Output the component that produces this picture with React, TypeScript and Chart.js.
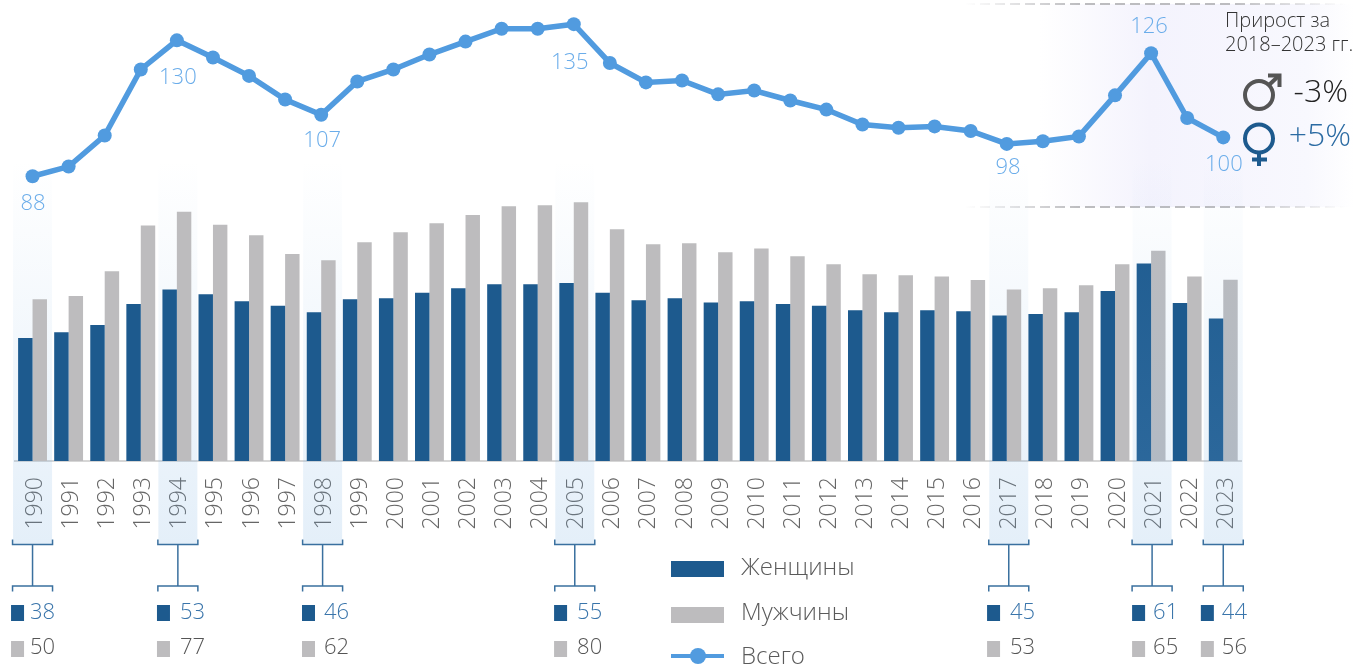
import React, { useEffect, useRef } from "react";
import { Chart, registerables } from "chart.js";

Chart.register(...registerables);

const years = ["1990","1991","1992","1993","1994","1995","1996","1997","1998","1999","2000","2001","2002","2003","2004","2005","2006","2007","2008","2009","2010","2011","2012","2013","2014","2015","2016","2017","2018","2019","2020","2021","2022","2023"];
const women = [38,39.8,42,48.5,53,51.5,49.4,48,46,50,50.3,52,53.4,54.6,54.6,55,52,49.7,50.3,49,49.4,48.5,48,46.6,46,46.6,46.3,45,45.4,46,52.5,61,48.8,44];
const men = [50,51,58.6,72.8,77,73,69.8,64,62,67.6,70.7,73.5,76,78.7,79,80,71.6,67,67.3,64.5,65.7,63.3,60.8,57.7,57.4,57,55.9,53,53.4,54.3,60.8,65,57,56];
const total = [88,91,100.6,121,130,124.7,119,111.7,107,117.3,121,125.6,129.6,133.6,133.6,135,123,117,117.6,113.3,114.5,111.4,108.6,104,103,103.4,102,98,98.8,100.3,113,126,106,100];
const highlightYears = ["1990","1994","1998","2005","2017","2021","2023"];
const overlayYears = ["2021","2023"];
const labelledTotals = ["1990","1994","1998","2005","2017","2021","2023"];
const legendLabels = ["Женщины","Мужчины","Всего"];
const growthTitle = ["Прирост за","2018–2023 гг."];
const growthMen = "-3%";
const growthWomen = "+5%";

const FONT = '"Open Sans", sans-serif';
const BLUE = "#1d5a8e";
const GREY = "#bdbcbe";
const LINE = "#519bdf";

// label offsets from the data point, in px
const labelOffsets: Record<string, [number, number]> = {
  "1990": [0.5, 27], "1994": [1, 37], "1998": [1, 26], "2005": [-4, 39],
  "2017": [1.3, 24], "2021": [-2, -27], "2023": [0.6, 27.5],
};
// [band shift, square offset, text offset] from the category centre, in px
const calloutLayout: Record<string, [number, number, number]> = {
  "1990": [0, -21.5, -2.5],
  "1994": [1, -19.9, 3.1],
  "1998": [1.4, -19.2, 2.8],
  "2005": [1, -19.7, 3.3],
  "2017": [2, -19.7, 3.3],
  "2021": [1, -19, 2],
  "2023": [0, -22.4, -1.4],
};

function drawBands(chart: any, list: string[]) {
  const { ctx, scales } = chart;
  ctx.save();
  list.forEach((year) => {
    const x = scales.x.getPixelForValue(years.indexOf(year)) + calloutLayout[year][0];
    const g = ctx.createLinearGradient(0, 160, 0, 544);
    g.addColorStop(0, "rgba(120,175,225,0)");
    g.addColorStop(1, "rgba(120,175,225,0.2)");
    ctx.fillStyle = g;
    ctx.fillRect(x - 19.5, 160, 39, 384);
  });
  ctx.restore();
}

const decor = {
  id: "decor",
  beforeDraw(chart: any) {
    const { ctx } = chart;
    ctx.save();
    ctx.fillStyle = "#ffffff";
    ctx.fillRect(0, 0, 1354, 666);
    const panel = ctx.createLinearGradient(1040, 0, 1354, 0);
    panel.addColorStop(0, "rgba(244,243,253,0)");
    panel.addColorStop(0.35, "rgba(244,243,253,1)");
    panel.addColorStop(0.85, "rgba(248,248,254,1)");
    panel.addColorStop(1, "rgba(248,248,254,0)");
    ctx.fillStyle = panel;
    ctx.fillRect(1040, 4, 314, 203);
    const dash = ctx.createLinearGradient(965, 0, 1345, 0);
    dash.addColorStop(0, "rgba(185,185,188,0)");
    dash.addColorStop(0.3, "rgba(185,185,188,0.95)");
    dash.addColorStop(0.7, "rgba(185,185,188,0.95)");
    dash.addColorStop(1, "rgba(185,185,188,0)");
    ctx.strokeStyle = dash;
    ctx.lineWidth = 2;
    ctx.setLineDash([10, 5]);
    [4, 207].forEach((y) => {
      ctx.beginPath();
      ctx.moveTo(965, y);
      ctx.lineTo(1345, y);
      ctx.stroke();
    });
    ctx.restore();
  },
  beforeDatasetsDraw(chart: any) {
    drawBands(chart, highlightYears.filter((y) => !overlayYears.includes(y)));
  },
  afterDatasetsDraw(chart: any) {
    drawBands(chart, overlayYears);
  },
  afterDraw(chart: any) {
    const { ctx, scales } = chart;
    ctx.save();
    ctx.textBaseline = "middle";
    ctx.font = `300 22px ${FONT}`;
    highlightYears.forEach((year) => {
      const i = years.indexOf(year);
      const c = scales.x.getPixelForValue(i);
      const [shift, sq, txt] = calloutLayout[year];
      const x = c + shift;
      ctx.strokeStyle = "#3a709f";
      ctx.lineWidth = 1.5;
      ctx.beginPath();
      ctx.moveTo(x - 20, 539.5); ctx.lineTo(x - 20, 544.5); ctx.lineTo(x + 20, 544.5); ctx.lineTo(x + 20, 539.5);
      ctx.moveTo(x, 544.5); ctx.lineTo(x, 586);
      ctx.moveTo(x - 20, 591.5); ctx.lineTo(x - 20, 586); ctx.lineTo(x + 20, 586); ctx.lineTo(x + 20, 591.5);
      ctx.stroke();
      ctx.textAlign = "left";
      ctx.fillStyle = BLUE;
      ctx.fillRect(c + sq, 605, 13, 16);
      ctx.fillStyle = GREY;
      ctx.fillRect(c + sq, 641, 13, 16);
      ctx.fillStyle = "#3a75ab";
      ctx.fillText(String(women[i]), c + txt, 612.5);
      ctx.fillStyle = "#555555";
      ctx.fillText(String(men[i]), c + txt, 648);
    });
    ctx.textAlign = "center";
    ctx.fillStyle = "#6badea";
    labelledTotals.forEach((year) => {
      const i = years.indexOf(year);
      const [dx, dy] = labelOffsets[year];
      ctx.fillText(String(total[i]), scales.x.getPixelForValue(i) + dx, scales.y.getPixelForValue(total[i]) + dy);
    });
    // legend
    ctx.fillStyle = BLUE;
    ctx.fillRect(671, 561, 53, 16);
    ctx.fillStyle = GREY;
    ctx.fillRect(671, 607, 53, 16);
    ctx.strokeStyle = LINE;
    ctx.lineWidth = 4;
    ctx.beginPath(); ctx.moveTo(671, 656); ctx.lineTo(724, 656); ctx.stroke();
    ctx.fillStyle = LINE;
    ctx.beginPath(); ctx.arc(698, 656, 8, 0, Math.PI * 2); ctx.fill();
    ctx.textAlign = "left";
    ctx.font = `300 24px ${FONT}`;
    ctx.fillStyle = "#5a5a5a";
    legendLabels.forEach((t, i) => ctx.fillText(t, 741, [568, 613, 657][i]));
    // growth panel
    ctx.font = `300 20px ${FONT}`;
    ctx.fillStyle = "#333333";
    growthTitle.forEach((t, i) => ctx.fillText(t, 1225, 21 + i * 24.5));
    ctx.textAlign = "right";
    ctx.font = `300 32px ${FONT}`;
    ctx.fillStyle = "#222222";
    ctx.fillText(growthMen, 1348, 93);
    ctx.fillStyle = "#2b6ba3";
    ctx.fillText(growthWomen, 1351, 136.5);
    // gender symbols
    ctx.lineWidth = 4;
    ctx.strokeStyle = "#555555";
    ctx.beginPath(); ctx.arc(1259, 95, 14, 0, Math.PI * 2); ctx.stroke();
    ctx.beginPath(); ctx.moveTo(1269, 85); ctx.lineTo(1279, 75.5); ctx.stroke();
    ctx.beginPath(); ctx.moveTo(1268, 75.5); ctx.lineTo(1279.5, 75.5); ctx.lineTo(1279.5, 87); ctx.stroke();
    ctx.strokeStyle = BLUE;
    ctx.beginPath(); ctx.arc(1259, 138.5, 14, 0, Math.PI * 2); ctx.stroke();
    ctx.beginPath(); ctx.moveTo(1259, 152); ctx.lineTo(1259, 166); ctx.moveTo(1252, 159.5); ctx.lineTo(1267, 159.5); ctx.stroke();
    ctx.restore();
  },
};

export default function App() {
  const ref = useRef<HTMLCanvasElement>(null);
  useEffect(() => {
    const chart = new Chart(ref.current!, {
      type: "bar",
      data: {
        labels: years,
        datasets: [
          { type: "line", label: "Всего", data: total, borderColor: LINE, backgroundColor: LINE, borderWidth: 5.5, pointRadius: 7, pointBackgroundColor: LINE, pointBorderWidth: 0, tension: 0, order: 0 },
          { type: "bar", label: "Женщины", data: women, backgroundColor: BLUE, order: 1 },
          { type: "bar", label: "Мужчины", data: men, backgroundColor: GREY, order: 2 },
        ],
      } as any,
      options: {
        responsive: false,
        animation: false,
        layout: { padding: { left: 14.5, right: 112.7, top: 0, bottom: 0 } },
        datasets: { bar: { barPercentage: 1, categoryPercentage: 0.8 } },
        plugins: { legend: { display: false }, tooltip: { enabled: false } },
        scales: {
          x: {
            grid: { display: false, drawTicks: false },
            border: { display: true, color: "#d6d6d6", width: 2 },
            ticks: { minRotation: 90, maxRotation: 90, autoSkip: false, padding: 16, labelOffset: 3, color: "#666666", font: { family: FONT, size: 23, weight: "300" } },
            afterFit(axis: any) { axis.height = 205; },
          },
          y: { display: false, min: 0, max: 140.3 },
        },
      } as any,
      plugins: [decor],
    });
    return () => chart.destroy();
  }, []);
  return (
    <canvas ref={ref} width={1354} height={666} style={{ position: "absolute", left: 0, top: 0, width: 1354, height: 666 }} />
  );
}
